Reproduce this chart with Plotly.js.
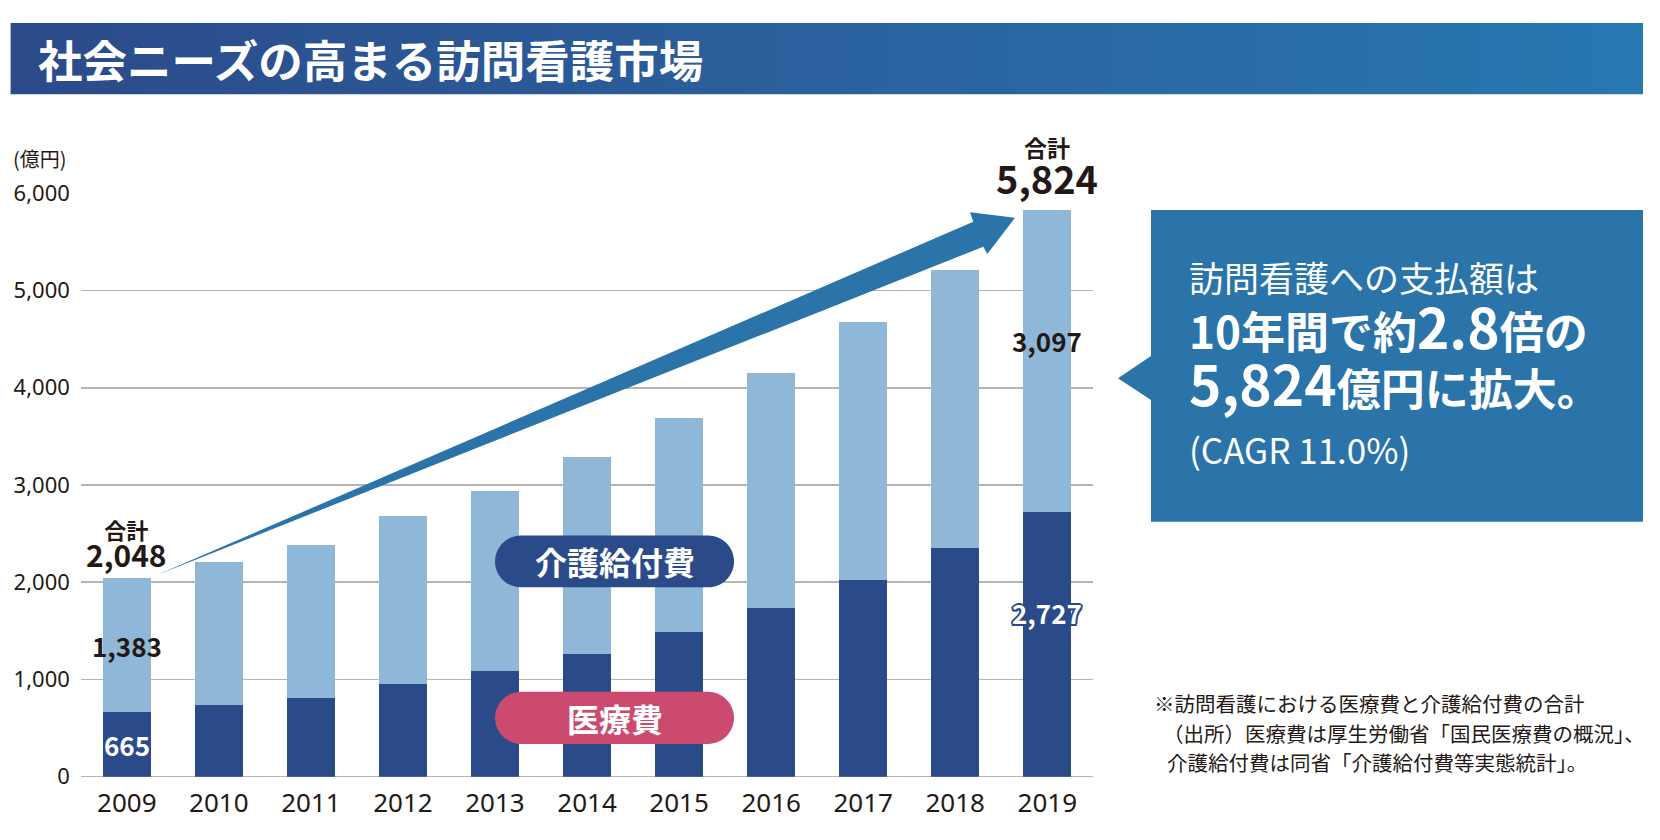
<!DOCTYPE html>
<html>
<head>
<meta charset="utf-8">
<script src="https://cdn.plot.ly/plotly-3.0.1.min.js"></script>
<style>html,body{margin:0;padding:0;background:#fff;}#chart{width:1660px;height:840px;}</style>
</head>
<body>
<div id="chart"></div>
<script>
// ---- data ----
const years = ['2009','2010','2011','2012','2013','2014','2015','2016','2017','2018','2019'];
const medical = [665, 735, 811, 952, 1085, 1257, 1488, 1735, 2023, 2353, 2727];      // 医療費
const care    = [1383, 1478, 1573, 1727, 1854, 2032, 2201, 2417, 2650, 2858, 3097]; // 介護給付費
const yTicks  = [0, 1000, 2000, 3000, 4000, 5000, 6000];
const seriesNames = ['医療費', '介護給付費'];
const titleText = '社会ニーズの高まる訪問看護市場';
const unitText = '(億円)';
const totalLabel = '合計';
const calloutLines = [
  '<span style="font-size:35px">訪問看護への支払額は</span>',
  '<b>10年間で約<span style="font-size:55px">2.8</span>倍の</b>',
  '<b><span style="font-size:55px">5,824</span>億円に拡大。</b>',
  '<span style="font-size:35px">(CAGR 11.0%)</span>'
];
const noteLines = [
  '※訪問看護における医療費と介護給付費の合計',
  '（出所）医療費は厚生労働省「国民医療費の概況」、',
  '介護給付費は同省「介護給付費等実態統計」。'
];

// ---- style ----
const W = 1660, H = 840;
const NAVY = '#2b4a8a', LIGHT = '#8fb8d8', BLUE = '#2a74aa', PINK = '#cb4a6d', INK = '#231815';
const JP = '"Noto Sans CJK JP", "Noto Sans", sans-serif';
const totals = medical.map((m, i) => m + care[i]);
const fmt = v => v.toLocaleString('en-US');
const last = years.length - 1;

const traces = [
  {type:'bar', x: years, y: medical, name: seriesNames[0], marker:{color: NAVY}, hoverinfo:'x+y+name'},
  {type:'bar', x: years, y: care, name: seriesNames[1], marker:{color: LIGHT}, hoverinfo:'x+y+name'},
  // title banner (pixel-space overlay axes)
  {type:'scatter', xaxis:'x2', yaxis:'y2', x:[10.6,1643,1643,10.6,10.6], y:[23,23,94.3,94.3,23],
   mode:'lines', fill:'toself', line:{width:0, color:'rgba(0,0,0,0)'},
   fillgradient:{type:'horizontal', colorscale:[[0,'#2c4a8a'],[1,'#2878b1']]},
   hoverinfo:'skip', showlegend:false}
];

// pill helper (rounded rectangle path, pixel space)
function pill(x0, x1, y0, y1){
  const r = (y1 - y0) / 2, k = 0.5523 * r;
  const a = x0 + r, b = x1 - r;
  return `M${a},${y0} L${b},${y0} C${b+k},${y0} ${x1},${y0+r-k} ${x1},${y0+r} C${x1},${y0+r+k} ${b+k},${y1} ${b},${y1} L${a},${y1} C${a-k},${y1} ${x0},${y0+r+k} ${x0},${y0+r} C${x0},${y0+r-k} ${a-k},${y0} ${a},${y0} Z`;
}

const shapes = [
  // growth arrow
  {type:'path', xref:'x2', yref:'y2', layer:'above', line:{width:0}, fillcolor: BLUE,
   path:'M157,575 L973.3,221.7 L970,212.3 L1015,217.7 L987.3,254 L983.3,246.7 Z'},
  // callout box
  {type:'path', xref:'x2', yref:'y2', layer:'above', line:{width:0}, fillcolor: BLUE,
   path:'M1151,210 L1643,210 L1643,521.7 L1151,521.7 L1151,400 L1118,378.3 L1151,356 Z'},
  // legend pills
  {type:'path', xref:'x2', yref:'y2', layer:'above', line:{width:0}, fillcolor: NAVY, path: pill(495, 734, 535.5, 587.3)},
  {type:'path', xref:'x2', yref:'y2', layer:'above', line:{width:0}, fillcolor: PINK, path: pill(495, 734, 691.7, 744)}
];

const outline = c => `-2px 0 0 ${c}, 2px 0 0 ${c}, 0 -2px 0 ${c}, 0 2px 0 ${c}, -1.5px -1.5px 0 ${c}, 1.5px 1.5px 0 ${c}, -1.5px 1.5px 0 ${c}, 1.5px -1.5px 0 ${c}`;

const ann = [];
function pxAnn(text, x, y, opts){
  ann.push(Object.assign({xref:'x2', yref:'y2', x, y, text, showarrow:false, xanchor:'left', yanchor:'middle'}, opts));
}
// title
pxAnn('<b>' + titleText + '</b>', 36, 58.5, {font:{family: JP, size: 44.5, color:'#ffffff'}});
// unit
pxAnn(unitText, 11, 158, {font:{family: JP, size: 20, color: INK}});
// callout text (one block)
pxAnn(calloutLines.join('<br>'), 1187, 362, {align:'left', font:{family: JP, size: 44, color:'#ffffff'}});
// notes
pxAnn(noteLines[0], 1152, 703, {font:{family: JP, size: 20.5, color: INK}});
pxAnn(noteLines[1], 1161, 732.5, {font:{family: JP, size: 20.5, color: INK}});
pxAnn(noteLines[2], 1165, 762, {font:{family: JP, size: 20.5, color: INK}});
// pill labels
pxAnn('<b>' + seriesNames[1] + '</b>', 614.5, 561.4, {xanchor:'center', font:{family: JP, size: 32, color:'#ffffff'}});
pxAnn('<b>' + seriesNames[0] + '</b>', 614.5, 717.9, {xanchor:'center', font:{family: JP, size: 32, color:'#ffffff'}});

// data-bound value labels (x is the category index on a category axis)
function dAnn(text, i, y, yshift, font){
  ann.push({xref:'x', yref:'y', x: i, y, text, showarrow:false, xanchor:'center', yanchor:'middle', yshift, font});
}
const boldInk = s => ({family: JP, size: s, color: INK});
const totalBlock = (v, s1, s2) =>
  `<b><span style="font-size:${s1}px">${totalLabel}</span><br><span style="font-size:${s2}px">${fmt(v)}</span></b>`;
dAnn(totalBlock(totals[0], 22, 30), 0, totals[0], 33, boldInk(21.5));
dAnn(totalBlock(totals[last], 23, 38), last, totals[last], 43, boldInk(28.5));
dAnn('<b>' + fmt(care[0]) + '</b>', 0, medical[0] + care[0] / 2, -1, boldInk(26));
dAnn('<b>' + fmt(care[last]) + '</b>', last, medical[last] + care[last] / 2, 20, boldInk(26));
dAnn('<b>' + fmt(medical[0]) + '</b>', 0, medical[0] / 2, 0, {family: JP, size: 26, color:'#ffffff', shadow: outline(NAVY)});
dAnn('<b>' + fmt(medical[last]) + '</b>', last, medical[last] / 2, 32, {family: JP, size: 26, color:'#ffffff', shadow: outline(NAVY)});

const layout = {
  width: W, height: H,
  margin: {l:0, r:0, t:0, b:0},
  paper_bgcolor:'#ffffff', plot_bgcolor:'rgba(0,0,0,0)',
  showlegend:false,
  barmode:'stack', bargap: 0.482,
  xaxis: {type:'category', domain:[80.8/W, 1093.3/W], range:[-0.5, 10.5], showgrid:false, showline:false,
          zeroline:false, ticks:'', ticklabelstandoff: 8,
          tickfont:{family:'"Noto Sans", sans-serif', size:26, color: INK}, fixedrange:true},
  yaxis: {domain:[(H-776.7)/H, (H-193.3)/H], range:[0, 6000], tickvals: yTicks, tickformat:',d',
          showgrid:true, gridcolor:'#b4b4b4', gridwidth:1.5, zeroline:true, zerolinecolor:'#b4b4b4', zerolinewidth:1.5,
          showline:false, ticks:'', ticklabelstandoff: 10,
          tickfont:{family:'"Noto Sans", sans-serif', size:22, color: INK}, fixedrange:true},
  xaxis2: {domain:[0,1], range:[0, W], visible:false, anchor:'y2', fixedrange:true},
  yaxis2: {domain:[0,1], range:[H, 0], visible:false, anchor:'x2', fixedrange:true},
  shapes, annotations: ann
};

Plotly.newPlot('chart', traces, layout, {displayModeBar:false, staticPlot:true});
</script>
</body>
</html>
